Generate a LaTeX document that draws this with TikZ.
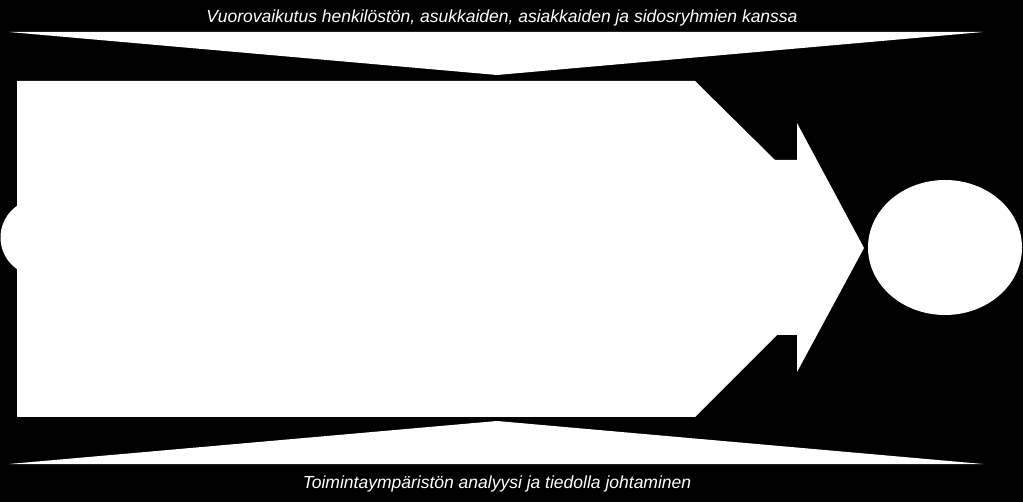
\documentclass[tikz,border=0pt]{standalone}
\usepackage{fontspec}
\setmainfont{Liberation Sans}

\begin{document}
\begin{tikzpicture}[x=1pt, y=-1pt, every node/.style={font=\fontsize{17.5}{20}\selectfont\itshape, text=white, inner sep=0pt}]

  \def\W{1023}
  \def\H{502}
  \def\boxl{17}
  \def\boxr{695}
  \def\boxt{81}
  \def\boxb{417}

  % background
  \fill[black] (0,0) rectangle (\W,\H);
  \useasboundingbox (0,0) rectangle (\W,\H);

  % left circle and right ellipse
  \fill[white] (39,237.5) circle[radius=38.5];
  \fill[white] (945,247.5) ellipse[x radius=77, y radius=67.5];

  % wedges
  \fill[white] (9,32) -- (983,32) -- (497,75) -- cycle;
  \fill[white] (9,464) -- (983,464) -- (497,421) -- cycle;

  % big arrow
  \fill[white] (\boxl,\boxt) -- (\boxr,\boxt) -- (775,160) -- (797,160) -- (797,123)
    -- (864,248) -- (797,372) -- (797,335) -- (777,335) -- (\boxr,\boxb)
    -- (\boxl,\boxb) -- cycle;

  \node[anchor=base] (top) at (502,23) {Vuorovaikutus henkilöstön, asukkaiden, asiakkaiden ja sidosryhmien kanssa};
  \node[anchor=base] (bottom) at (497,488) {Toimintaympäristön analyysi ja tiedolla johtaminen};
\end{tikzpicture}
\end{document}
